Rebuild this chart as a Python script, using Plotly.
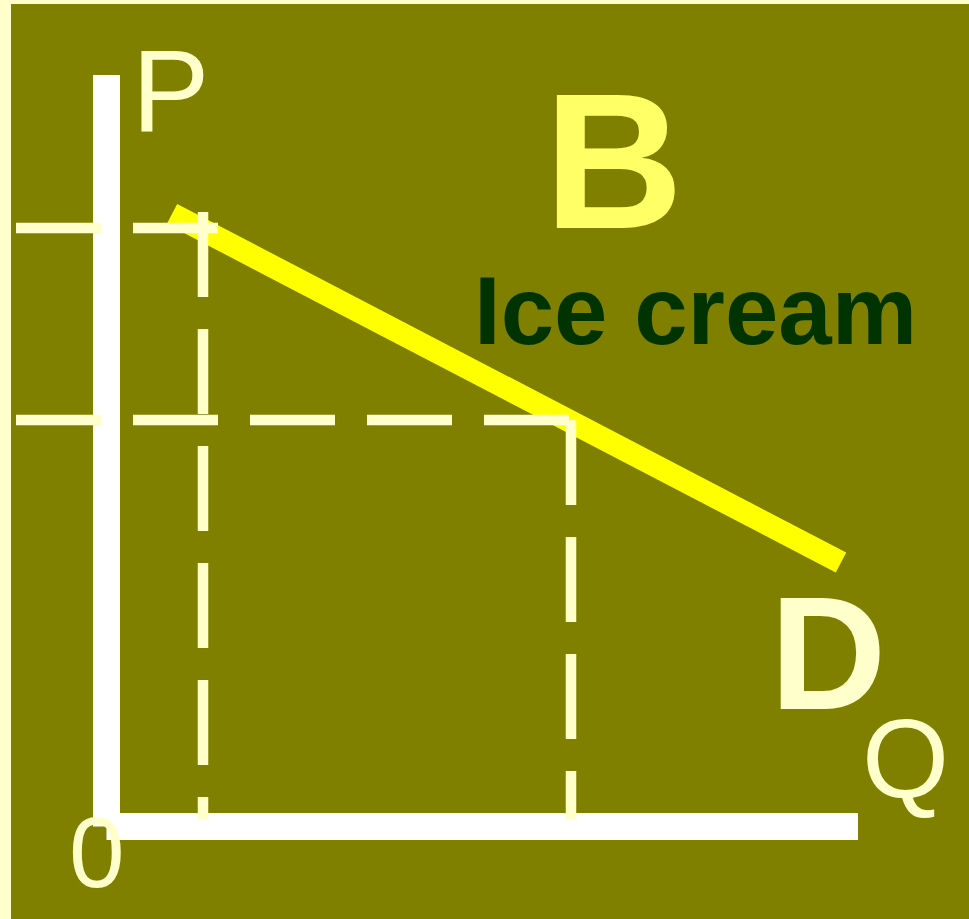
import plotly.graph_objects as go

# ---- data (economic units) ----
demand_q = [6.55, 73.45]
demand_p = [61.25, 26.4]
price_levels = [59.85, 40.65]      # P1, P2
quantity_levels = [9.65, 46.45]    # Q1, Q2
axis_len_q = 75.15
axis_len_p = 75.15
labels = {"P": "P", "Q": "Q", "O": "0", "B": "B", "good": "Ice cream", "D": "D"}

OLIVE = "#808000"
LIGHT = "#FFFFCC"
WHITE = "#FFFFFF"
YELLOW = "#FFFF00"

fig = go.Figure()

# axes (two separate strokes meeting at the origin)
fig.add_trace(go.Scatter(x=[0, 0], y=[axis_len_p, 0], mode="lines",
                         line=dict(color=WHITE, width=27)))
fig.add_trace(go.Scatter(x=[0, axis_len_q], y=[0, 0], mode="lines",
                         line=dict(color=WHITE, width=27)))

# demand curve
fig.add_trace(go.Scatter(x=demand_q, y=demand_p, mode="lines",
                         line=dict(color=YELLOW, width=22.5)))

# dashed guide lines
dash = "85px,32px"
left_start = -9.05
bottom_end = 0.65
p1, p2 = price_levels
q1, q2 = quantity_levels
fig.add_trace(go.Scatter(x=[left_start, 11.15], y=[p1, p1], mode="lines",
                         line=dict(color=LIGHT, width=10.5, dash=dash)))
fig.add_trace(go.Scatter(x=[q1, q1], y=[61.45, bottom_end], mode="lines",
                         line=dict(color=LIGHT, width=10.5, dash=dash)))
fig.add_trace(go.Scatter(x=[left_start, q2], y=[p2, p2], mode="lines",
                         line=dict(color=LIGHT, width=10.5, dash=dash)))
fig.add_trace(go.Scatter(x=[q2, q2], y=[p2, bottom_end], mode="lines",
                         line=dict(color=LIGHT, width=10.5, dash=dash)))

font_reg = "Liberation Sans, Arial, sans-serif"
ann = [
    dict(text=labels["P"], x=6.35, y=73.6, size=116, color=LIGHT, bold=False),
    dict(text=labels["Q"], x=79.85, y=6.85, size=112, color=LIGHT, bold=False),
    dict(text=labels["O"], x=-0.95, y=-2.55, size=100, color=LIGHT, bold=False),
    dict(text=labels["B"], x=50.65, y=66.6, size=193, color="#FFFF66", bold=True),
    dict(text=labels["good"], x=58.9, y=51.6, size=96, color="#003300", bold=True),
    dict(text=labels["D"], x=72.1, y=17.4, size=161, color=LIGHT, bold=True),
]
for a in ann:
    t = "<b>%s</b>" % a["text"] if a["bold"] else a["text"]
    fig.add_annotation(x=a["x"], y=a["y"], xref="x", yref="y", text=t,
                       showarrow=False, xanchor="center", yanchor="middle",
                       font=dict(family=font_reg, size=a["size"], color=a["color"]))

fig.update_layout(
    width=969, height=919,
    margin=dict(l=11, r=0, t=4, b=0, pad=0),
    paper_bgcolor=LIGHT, plot_bgcolor=OLIVE,
    showlegend=False, hovermode=False,
    xaxis=dict(range=[-9.55, 86.25], visible=False, fixedrange=True),
    yaxis=dict(range=[-9.25, 82.25], visible=False, fixedrange=True),
)

fig.write_html("out.html", config={"displayModeBar": False, "staticPlot": True},
               post_script="document.body.style.margin='0';")
